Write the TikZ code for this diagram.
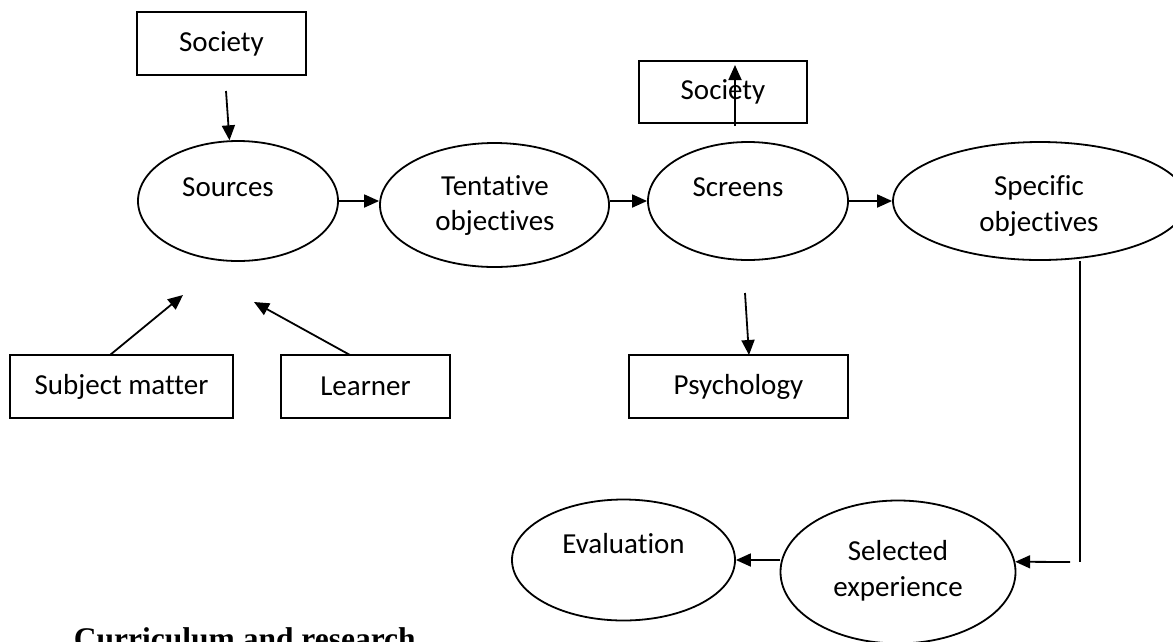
\documentclass[tikz,border=0pt]{standalone}
\usepackage{fontspec}
\setmainfont{Carlito}[Ligatures={NoCommon,NoContextual}]
\newfontfamily\headserif{Liberation Serif}
\usetikzlibrary{arrows.meta,shapes.geometric}

\begin{document}
\begin{tikzpicture}[x=1pt,y=-1pt,
  line width=1.8pt,
  box/.style={draw, rectangle, inner sep=0pt, font=\fontsize{29}{35}\selectfont},
  oval/.style={draw, ellipse, inner sep=0pt},
  lbl/.style={anchor=base, inner sep=0pt, font=\fontsize{29}{35}\selectfont},
  arr/.style={-{Triangle[length=15pt,width=13pt]}},
]
\useasboundingbox (0,0) rectangle (1173,641);
\clip (0,0) rectangle (1173,641);

% source boxes
\node[box, minimum width=169pt, minimum height=63pt] (societyA) at (221.5,43.5) {Society};
\node[box, minimum width=223pt, minimum height=63pt] (subject) at (121.5,386.5) {Subject matter};
\node[box, minimum width=169pt, minimum height=63pt] (learner) at (365.5,386.5) {Learner};

% screen boxes
\node[box, minimum width=168pt, minimum height=62pt] (societyB) at (723,92) {Society};
\node[box, minimum width=219pt, minimum height=63pt] (psych) at (738.5,386.5) {Psychology};

% stages
\node[oval, minimum width=200pt, minimum height=120pt] (sources) at (238,201) {};
\node[oval, minimum width=229pt, minimum height=124pt] (tent) at (494.5,205) {};
\node[oval, minimum width=200pt, minimum height=118pt] (screens) at (748,201) {};
\node[oval, minimum width=294pt, minimum height=118pt] (spec) at (1040,201) {};
\node[oval, minimum width=235pt, minimum height=143pt] (sel) at (898,572) {};
\node[oval, minimum width=223pt, minimum height=121pt] (eval) at (623.5,560) {};

% stage labels
\node[lbl] (sources-t) at (228,196) {Sources};
\node[lbl] (tent-t1) at (495,195) {Tentative};
\node[lbl] (tent-t2) at (495,230) {objectives};
\node[lbl] (screens-t) at (738,196) {Screens};
\node[lbl] (spec-t1) at (1039,195) {Specific};
\node[lbl] (spec-t2) at (1039,231) {objectives};
\node[lbl] (sel-t1) at (898,560) {Selected};
\node[lbl] (sel-t2) at (898,596) {experience};
\node[lbl] (eval-t) at (623.5,553) {Evaluation};

% heading
\node[anchor=base west, inner sep=0pt, font=\headserif\bfseries\fontsize{31.5}{38}\selectfont] (heading) at (73,649) {Curriculum and research};

% connector end points
\coordinate (socA-out) at (226,91);
\coordinate (subj-out) at (110,355);
\coordinate (subj-tip) at (183,295);
\coordinate (learn-out) at (350,355);
\coordinate (learn-tip) at (254,302);
\coordinate (up-start) at (735,126);
\coordinate (up-end) at (735,65);
\coordinate (psy-start) at (745,293);
\coordinate (psy-tip) at (749,355);
\coordinate (turn) at (1080,562);
\coordinate (back) at (1070,562);

% connectors
\draw[arr] (socA-out) -- (sources.98);
\draw[arr] (subj-out) -- (subj-tip);
\draw[arr] (learn-out) -- (learn-tip);
\draw[arr] (sources.east) -- (sources.east -| tent.west);
\draw[arr] (screens.west -| tent.east) -- (screens.west);
\draw[arr] (screens.east) -- (spec.west);
\draw[arr] (up-start) -- (up-end);
\draw[arr] (psy-start) -- (psy-tip);
\draw (spec.south -| turn) -- (turn);
\draw[arr] (back) -- (sel.5);
\draw[arr] (eval.east -| sel.west) -- (eval.east);
\end{tikzpicture}
\end{document}
